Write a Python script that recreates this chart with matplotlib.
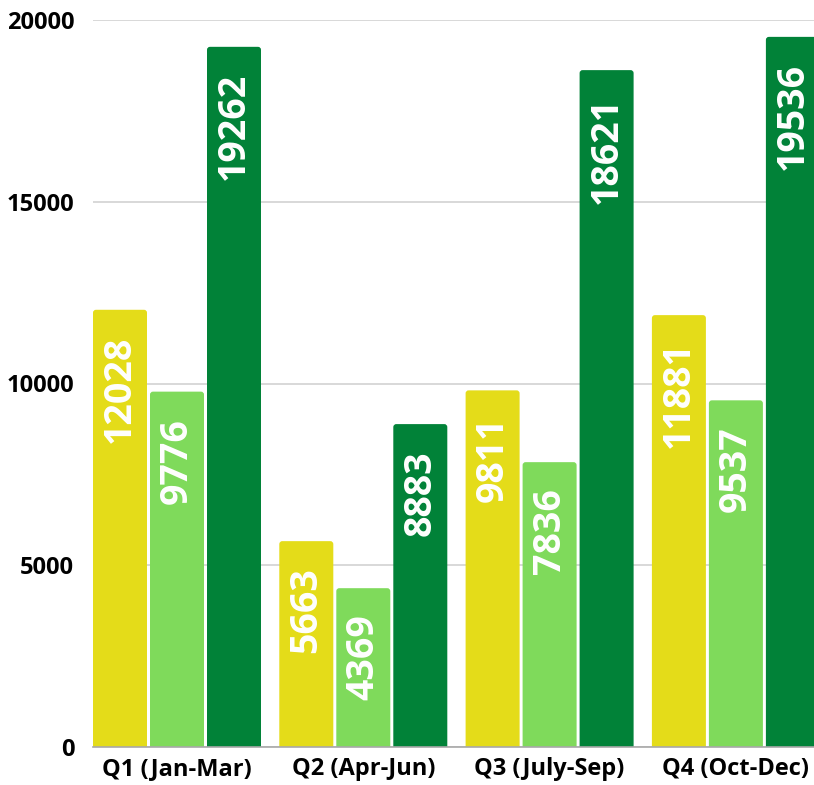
import matplotlib
matplotlib.use("Agg")
import matplotlib.pyplot as plt
from matplotlib.patches import FancyBboxPatch
import numpy as np

categories = ["Q1 (Jan-Mar)", "Q2 (Apr-Jun)", "Q3 (July-Sep)", "Q4 (Oct-Dec)"]
series_a = [12028, 5663, 9811, 11881]
series_b = [9776, 4369, 7836, 9537]
series_c = [19262, 8883, 18621, 19536]
y_ticks = [0, 5000, 10000, 15000, 20000]
colors = ["#E4DC19", "#7FDA5B", "#018238"]

plt.rcParams['font.family'] = ['Open Sans', 'DejaVu Sans']

W, H = 814, 785
fig = plt.figure(figsize=(W / 100, H / 100), dpi=100)
ax = fig.add_axes([93 / W, 38 / H, 721 / W, 727 / H])

step_px = 186.3
bar_w = 54 / step_px
offset = 57 / step_px
x = np.arange(len(categories))

left = -(offset + bar_w / 2)
ax.set_xlim(left, left + 721 / step_px)
ax.set_ylim(0, 20000)

px_per_x = step_px
px_per_y = 727 / 20000
r_px = 3.0
r_x = r_px / px_per_x
aspect = (r_px / px_per_y) / r_x

for i, (vals, col) in enumerate(zip([series_a, series_b, series_c], colors)):
    bars = ax.bar(x + (i - 1) * offset, vals, width=bar_w, color=col, zorder=2)
    for rect, v in zip(bars, vals):
        rect.set_visible(False)
        p = FancyBboxPatch((rect.get_x(), -300), rect.get_width(), rect.get_height() + 300,
                           boxstyle=f"round,pad=0,rounding_size={r_x}",
                           mutation_aspect=aspect, facecolor=col, edgecolor='none',
                           zorder=2, clip_on=True)
        ax.add_patch(p)
        ax.annotate(f"{v}", xy=(rect.get_x() + rect.get_width() / 2, v),
                    xytext=(0, -19), textcoords='offset points',
                    rotation=90, ha='center', va='top', color='white',
                    fontsize=27, fontweight='bold', zorder=3,
                    annotation_clip=False)

ax.set_yticks(y_ticks)
ax.set_yticklabels([str(t) for t in y_ticks], fontsize=17, fontweight='bold')
ax.set_xticks(x)
ax.set_xticklabels(categories, fontsize=17, fontweight='bold')
ax.tick_params(axis='y', length=0, pad=13.5)
ax.tick_params(axis='x', length=0, pad=7)

ax.yaxis.grid(True, color='#d6d6d6', linewidth=1.3, zorder=0)
ax.set_axisbelow(True)
for s in ['top', 'right', 'left']:
    ax.spines[s].set_visible(False)
ax.spines['bottom'].set_color('#a8a8a8')
ax.spines['bottom'].set_linewidth(1.2)

fig.savefig("out.png", dpi=100)
